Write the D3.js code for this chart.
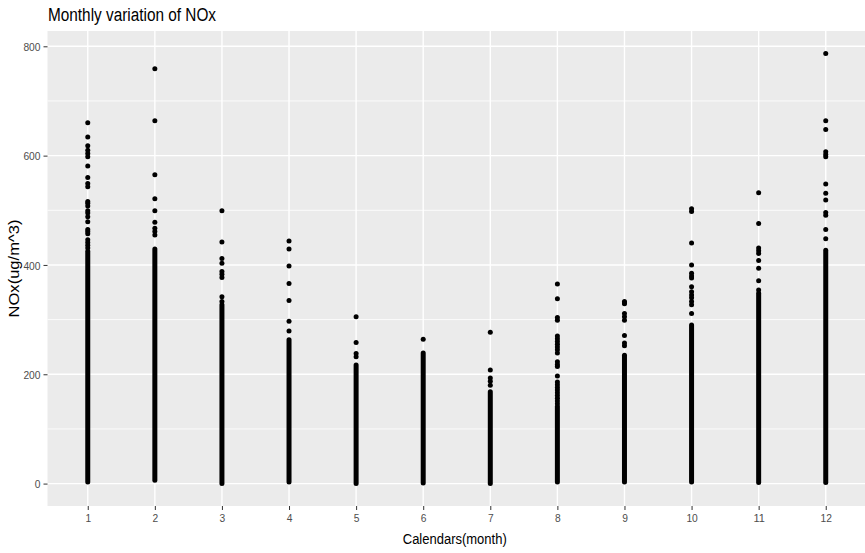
<!DOCTYPE html>
<html>
<head>
<meta charset="utf-8">
<script src="https://cdn.jsdelivr.net/npm/d3@7"></script>
<style>
  html, body { margin: 0; padding: 0; background: #ffffff; }
  svg { display: block; }
  text { font-family: "Liberation Sans Narrow", "Liberation Sans", Arial, sans-serif; }
</style>
</head>
<body>
<svg id="chart" width="865" height="553"></svg>
<script>
// ---- data ----
const months = [1, 2, 3, 4, 5, 6, 7, 8, 9, 10, 11, 12];
// lower and upper end of the solid (overlapping) column of points per month
const denseLow  = [3, 6, 0, 3, 0, 1, 0, 3, 3, 3, 2, 2];
const denseHigh = [425, 429, 327, 263, 217, 239, 168, 141, 235, 290, 348, 427];
// separately visible points above the solid column
const outliers = [
  [660, 634, 618, 610, 604, 598, 581, 560, 549, 543, 516, 513, 508, 499, 495, 488, 479, 465, 461, 457, 446, 441, 436, 431],
  [759, 664, 565, 521, 499, 478, 467, 461, 455],
  [499, 442, 412, 403, 388, 383, 377, 342, 333],
  [444, 429, 398, 366, 335, 297, 279],
  [305, 258, 238, 232],
  [264],
  [277, 208, 193, 187, 180],
  [365, 338, 304, 299, 270, 265, 260, 255, 250, 245, 239, 223, 218, 214, 197, 186, 181, 176, 171, 166, 161, 156, 151, 146],
  [333, 331, 329, 311, 305, 299, 271, 257, 252],
  [503, 498, 440, 400, 385, 380, 376, 360, 351, 345, 340, 333, 327, 311],
  [532, 476, 431, 426, 421, 408, 394, 371, 354],
  [787, 664, 648, 607, 602, 598, 548, 531, 519, 496, 491, 465, 448]
];
const yTicks = [0, 200, 400, 600, 800];
const yMinor = [100, 300, 500, 700];
const titleText = "Monthly variation of NOx";
const xTitle = "Calendars(month)";
const yTitle = "NOx(ug/m^3)";

// ---- layout ----
const svg = d3.select("#chart");
const panel = { left: 47.5, right: 866, top: 31, bottom: 506 };

const x = d3.scaleLinear().domain([0.4, 12.6]).range([panel.left, panel.right]);
const y = d3.scaleLinear().domain([-41, 828]).range([panel.bottom, panel.top]);

// panel background
svg.append("rect")
  .attr("x", panel.left).attr("y", panel.top)
  .attr("width", panel.right - panel.left).attr("height", panel.bottom - panel.top)
  .attr("fill", "#EBEBEB");

// minor grid
svg.append("g").selectAll("line").data(yMinor).join("line")
  .attr("x1", panel.left).attr("x2", panel.right)
  .attr("y1", d => y(d)).attr("y2", d => y(d))
  .attr("stroke", "#ffffff").attr("stroke-width", 0.8);

// major grid
svg.append("g").selectAll("line").data(yTicks).join("line")
  .attr("x1", panel.left).attr("x2", panel.right)
  .attr("y1", d => y(d)).attr("y2", d => y(d))
  .attr("stroke", "#ffffff").attr("stroke-width", 1.4);
svg.append("g").selectAll("line").data(months).join("line")
  .attr("x1", d => x(d)).attr("x2", d => x(d))
  .attr("y1", panel.top).attr("y2", panel.bottom)
  .attr("stroke", "#ffffff").attr("stroke-width", 1.4);

// axes (ggplot-like)
const yAxis = svg.append("g")
  .attr("transform", `translate(${panel.left},0)`)
  .call(d3.axisLeft(y).tickValues(yTicks).tickSize(4).tickPadding(3));
const xAxis = svg.append("g")
  .attr("transform", `translate(0,${panel.bottom})`)
  .call(d3.axisBottom(x).tickValues(months).tickSize(4).tickPadding(4).tickFormat(d3.format("d")));
[yAxis, xAxis].forEach(g => {
  g.select(".domain").remove();
  g.selectAll(".tick line").attr("stroke", "#333333").attr("stroke-width", 1);
  g.selectAll(".tick text")
    .attr("fill", "#4D4D4D")
    .style("font-size", "11.7px")
    .attr("font-family", null)
    .attr("textLength", function() { return this.textContent.length * 5.7; })
    .attr("lengthAdjust", "spacingAndGlyphs");
});
yAxis.selectAll(".tick text").attr("dy", "0.36em");

// dense columns
svg.append("g").selectAll("line").data(months).join("line")
  .attr("x1", d => x(d)).attr("x2", d => x(d))
  .attr("y1", (d, i) => y(denseLow[i])).attr("y2", (d, i) => y(denseHigh[i]))
  .attr("stroke", "#000000").attr("stroke-width", 5).attr("stroke-linecap", "round");

// individual points
const pts = [];
months.forEach((m, i) => outliers[i].forEach(v => pts.push({ m, v })));
svg.append("g").selectAll("circle").data(pts).join("circle")
  .attr("cx", d => x(d.m)).attr("cy", d => y(d.v))
  .attr("r", 2.5).attr("fill", "#000000");

// titles
svg.append("text")
  .attr("x", 48).attr("y", 20.7)
  .style("font-size", "18px").attr("fill", "#000000")
  .attr("textLength", 168).attr("lengthAdjust", "spacingAndGlyphs")
  .text(titleText);

svg.append("text")
  .attr("x", (panel.left + panel.right) / 2 - 2).attr("y", 544)
  .attr("text-anchor", "middle")
  .style("font-size", "14.7px").attr("fill", "#000000")
  .attr("textLength", 104).attr("lengthAdjust", "spacingAndGlyphs")
  .text(xTitle);

svg.append("text")
  .attr("transform", `translate(19,${(panel.top + panel.bottom) / 2}) rotate(-90)`)
  .attr("text-anchor", "middle")
  .style("font-size", "14.7px").attr("fill", "#000000")
  .attr("textLength", 98).attr("lengthAdjust", "spacingAndGlyphs")
  .text(yTitle);
</script>
</body>
</html>
